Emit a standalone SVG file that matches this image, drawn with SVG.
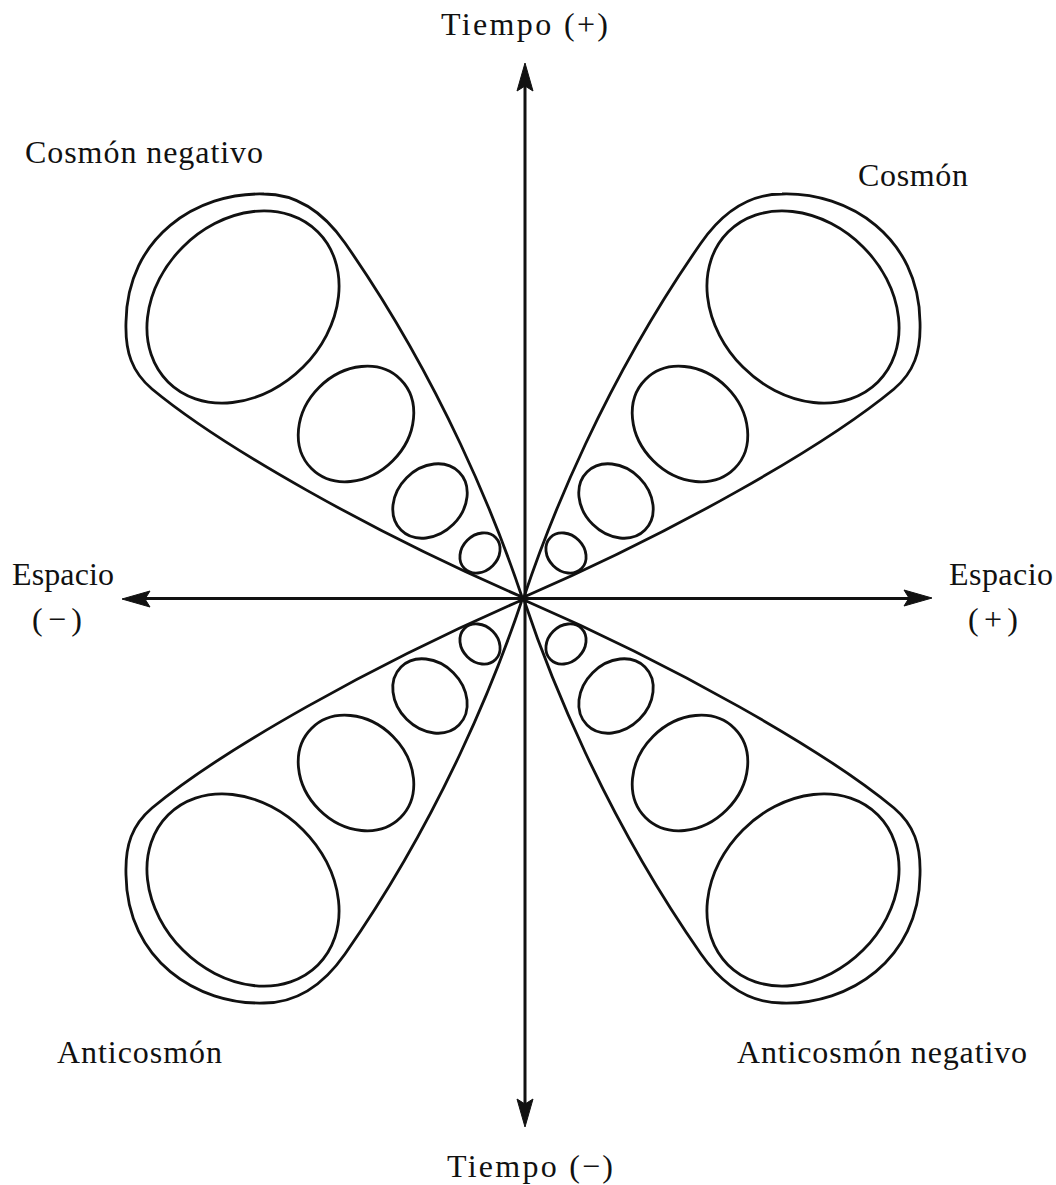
<svg xmlns="http://www.w3.org/2000/svg" width="1056" height="1185" viewBox="0 0 1056 1185">
<style>
.ln{fill:none;stroke:#111;stroke-width:2.8;stroke-linejoin:round;stroke-linecap:round}
.ax{fill:none;stroke:#111;stroke-width:3}
.ah{fill:#111;stroke:#111;stroke-width:1;stroke-linejoin:round}
.t{font-family:"Liberation Serif","Times New Roman",serif;font-size:32px;fill:#111}
</style>
<defs>
<g id="lobe">
<path class="ln" d="M0,0 C25,-75 80,-215 177,-354 C200,-387 228,-403 258,-403 C325,-405 395,-360 396,-275 C397,-245 390,-225 370,-208 C300,-150 150,-65 0,0 Z"/>
<ellipse class="ln" cx="0" cy="0" rx="106" ry="85" transform="translate(279,-290) rotate(45)"/>
<ellipse class="ln" cx="0" cy="0" rx="63" ry="52" transform="translate(166,-173) rotate(45)"/>
<ellipse class="ln" cx="0" cy="0" rx="41" ry="33" transform="translate(92,-96) rotate(45)"/>
<ellipse class="ln" cx="0" cy="0" rx="22" ry="18" transform="translate(42,-44) rotate(45)"/>
</g>
</defs>
<rect width="1056" height="1185" fill="#fff"/>
<g id="connectors">
<line class="ax" x1="525" y1="80" x2="525" y2="1110"/>
<line class="ax" x1="138" y1="598.5" x2="918" y2="598.5"/>
<polygon class="ah" points="525,63 533,91 525,86 517,91"/>
<polygon class="ah" points="525,1127 533,1099 525,1104 517,1099"/>
<polygon class="ah" points="122,599 150,591 145,599 150,607"/>
<polygon class="ah" points="932,598 904,590 909,598 904,606"/>
</g>
<g id="cosmon"><use href="#lobe" transform="translate(524,597)"/></g>
<g id="cosmon-negativo"><use href="#lobe" transform="translate(522,597) scale(-1,1)"/></g>
<g id="anticosmon-negativo"><use href="#lobe" transform="translate(524,600) scale(1,-1)"/></g>
<g id="anticosmon"><use href="#lobe" transform="translate(522,600) scale(-1,-1)"/></g>
<g id="labels">
<text class="t" x="441" y="35" textLength="167" lengthAdjust="spacing">Tiempo (+)</text>
<text class="t" x="25" y="163" textLength="238" lengthAdjust="spacing">Cosmón negativo</text>
<text class="t" x="858" y="186" textLength="110" lengthAdjust="spacing">Cosmón</text>
<text class="t" x="12" y="585" textLength="102" lengthAdjust="spacing">Espacio</text>
<text class="t" x="32" y="630" textLength="50" lengthAdjust="spacing">(−)</text>
<text class="t" x="949" y="585" textLength="104" lengthAdjust="spacing">Espacio</text>
<text class="t" x="968" y="630" textLength="50" lengthAdjust="spacing">(+)</text>
<text class="t" x="57" y="1063" textLength="165" lengthAdjust="spacing">Anticosmón</text>
<text class="t" x="737" y="1063" textLength="290" lengthAdjust="spacing">Anticosmón negativo</text>
<text class="t" x="447" y="1177" textLength="166" lengthAdjust="spacing">Tiempo (−)</text>
</g>
</svg>
